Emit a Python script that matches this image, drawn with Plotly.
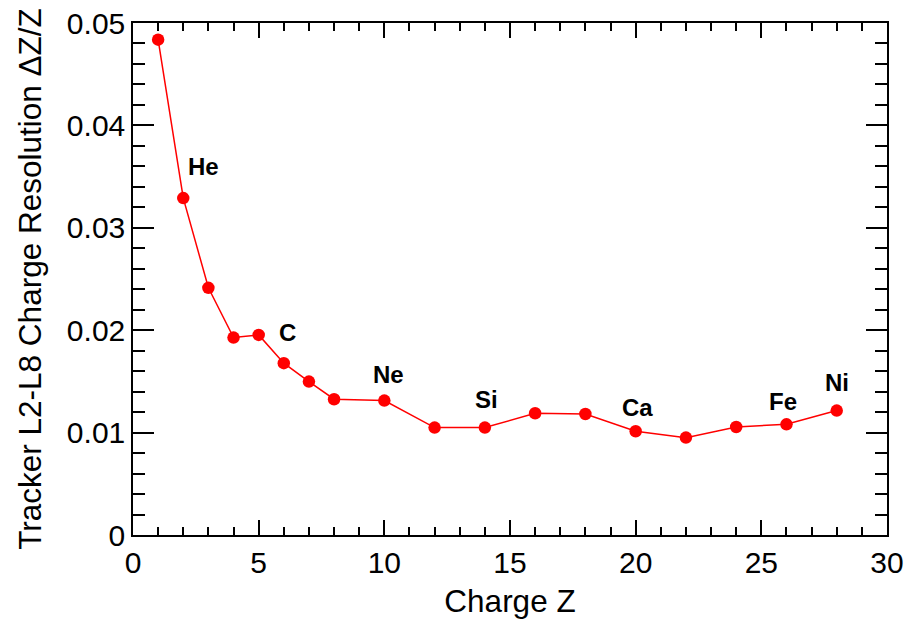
import plotly.graph_objects as go

charge_z = [1, 2, 3, 4, 5, 6, 7, 8, 10, 12, 14, 16, 18, 20, 22, 24, 26, 28]
resolution = [0.04837, 0.03290, 0.02414, 0.01928, 0.01954, 0.01678, 0.01498, 0.01326,
              0.01313, 0.01049, 0.01049, 0.01189, 0.01182, 0.01013, 0.00951, 0.01055,
              0.01081, 0.01215]

label_text = ["He", "C", "Ne", "Si", "Ca", "Fe", "Ni"]
label_x = [2.8, 6.14, 10.16, 14.06, 20.07, 25.88, 28.03]
label_y = [0.03596, 0.01974, 0.01563, 0.01319, 0.01241, 0.0130, 0.01485]

FONT = "Liberation Sans, Arial"

fig = go.Figure()
fig.add_trace(go.Scatter(
    x=charge_z, y=resolution, mode="lines+markers",
    line=dict(color="#ff0000", width=1.5),
    marker=dict(color="#ff0000", size=12.5),
    showlegend=False, cliponaxis=False,
))
for t, lx, ly in zip(label_text, label_x, label_y):
    fig.add_annotation(x=lx, y=ly, text="<b>%s</b>" % t, showarrow=False,
                       font=dict(family=FONT, size=24, color="black"))

axis_common = dict(
    showgrid=False, zeroline=False, showline=True, linecolor="black", linewidth=1.5,
    mirror="ticks", ticks="inside", tickcolor="black", tickwidth=1.5,
    tickfont=dict(family=FONT, size=30, color="black"), automargin=False,
)
fig.update_xaxes(range=[0, 30], dtick=5, ticklen=15,
                 minor=dict(dtick=1, ticks="inside", ticklen=8, tickcolor="black", tickwidth=1.5),
                 title=dict(text="Charge Z", font=dict(family=FONT, size=31.5, color="black"),
                            standoff=12),
                 **axis_common)
fig.update_yaxes(range=[0, 0.05], dtick=0.01, ticklen=21,
                 minor=dict(dtick=0.002, ticks="inside", ticklen=12, tickcolor="black", tickwidth=1.5),
                 title=dict(text="Tracker L2-L8 Charge Resolution ΔZ/Z",
                            font=dict(family=FONT, size=31.5, color="black"),
                            standoff=16),
                 **axis_common)
fig.update_layout(
    width=908, height=620, autosize=False,
    margin=dict(l=133, r=21, t=23, b=85),
    plot_bgcolor="white", paper_bgcolor="white",
)
fig.write_html("out.html")
